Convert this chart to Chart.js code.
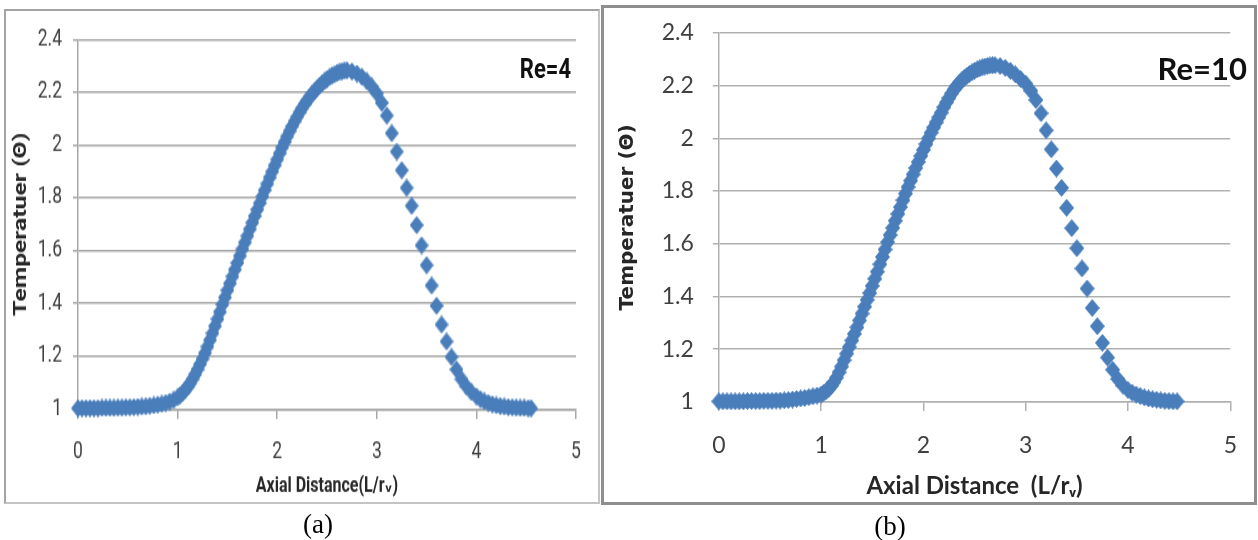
<!DOCTYPE html>
<html><head><meta charset="utf-8">
<script src="https://cdn.jsdelivr.net/npm/chart.js@4.4.1/dist/chart.umd.min.js"></script>
<style>
html,body{margin:0;padding:0;background:#fff;}
body{width:1258px;height:540px;position:relative;overflow:hidden;}
.frame{position:absolute;box-sizing:border-box;}
#frameA{left:4px;top:9px;width:596px;height:495px;border:2px solid #a4a4a4;border-right-color:#c4c4c4;border-bottom-color:#c4c4c4;}
#frameB{left:601px;top:5px;width:656px;height:500px;border:3px solid #8e8e8e;}
canvas{position:absolute;top:0;}
/* panel (a) of the source figure is vertically stretched; mimic it */
#cA{left:0;transform:scaleY(1.3012);transform-origin:0 0;}
#cB{left:600px;}
.note{position:absolute;white-space:nowrap;line-height:1;}
#reA{right:687px;top:53px;font:bold 22px Roboto,'DejaVu Sans',sans-serif;color:#111;transform:scaleY(1.27);transform-origin:0 0;}
#reB{right:11px;top:49px;font:bold 31px Lato,'Open Sans',sans-serif;color:#111;}
#capA{left:318px;top:509px;transform:translateX(-50%);font:27px 'Liberation Serif',serif;color:#000;}
#capB{left:890px;top:511px;transform:translateX(-50%);font:27px 'Liberation Serif',serif;color:#000;}
</style></head>
<body>
<div class="frame" id="frameA"></div>
<div class="frame" id="frameB"></div>
<canvas id="cA" width="600" height="415"></canvas>
<canvas id="cB" width="658" height="540"></canvas>
<div class="note" id="reA">Re=4</div>
<div class="note" id="reB">Re=10</div>
<div class="note" id="capA">(a)</div>
<div class="note" id="capB">(b)</div>
<script>
// ---- data ----
const xTickValues = [0, 1, 2, 3, 4, 5];
const xTickLabels = ['0', '1', '2', '3', '4', '5'];
const yTickValues = [1, 1.2, 1.4, 1.6, 1.8, 2, 2.2, 2.4];
const yTickLabels = ['1', '1.2', '1.4', '1.6', '1.8', '2', '2.2', '2.4'];

const xRe4 = [
  0,0.04,0.08,0.12,0.16,0.2,0.24,0.28,0.32,0.36,0.4,0.44,0.48,0.52,0.56,0.6,0.64,0.68,0.72,0.76,0.8,0.84,0.88,0.92,0.96,
  1,1.025,1.05,1.075,1.1,1.125,1.15,1.175,1.2,1.225,1.25,1.275,1.3,1.325,1.35,1.375,1.4,1.425,1.45,1.475,
  1.5,1.525,1.55,1.575,1.6,1.625,1.65,1.675,1.7,1.725,1.75,1.775,1.8,1.825,1.85,1.875,1.9,1.925,1.95,1.975,
  2,2.025,2.05,2.075,2.1,2.125,2.15,2.175,2.2,2.225,2.25,2.275,2.3,2.325,2.35,2.375,2.4,2.425,2.45,2.475,
  2.5,2.525,2.55,2.575,2.6,2.625,2.65,2.675,2.7,
  2.75,2.8,2.85,2.9,2.95,3,3.05,3.1,3.15,3.2,3.25,3.3,3.35,3.4,3.45,3.5,3.55,3.6,3.65,3.7,3.75,3.8,3.85,3.9,3.95,4,
  4.04,4.08,4.12,4.16,4.2,4.24,4.28,4.32,4.36,4.4,4.44,4.48,4.52,4.55
];
const thetaRe4 = [
  1.003,1.003,1.003,1.003,1.003,1.003,1.004,1.004,1.004,1.004,1.005,1.005,1.006,1.006,1.007,1.008,1.009,1.010,1.012,1.014,1.016,1.019,1.023,1.028,1.034,
  1.044,1.052,1.061,1.071,1.083,1.097,1.113,1.131,1.150,1.170,1.190,1.212,1.236,1.261,1.287,1.314,1.341,1.368,1.396,1.423,
  1.450,1.476,1.502,1.528,1.554,1.580,1.606,1.631,1.656,1.681,1.706,1.731,1.756,1.780,1.805,1.829,1.853,1.877,1.900,1.923,
  1.946,1.969,1.991,2.012,2.033,2.053,2.072,2.090,2.107,2.124,2.140,2.155,2.169,2.182,2.194,2.205,2.215,2.225,2.234,2.242,
  2.250,2.257,2.263,2.268,2.273,2.277,2.280,2.282,2.283,
  2.279,2.271,2.259,2.242,2.222,2.196,2.160,2.112,2.045,1.975,1.905,1.838,1.770,1.697,1.620,1.545,1.468,1.391,1.320,1.256,1.197,1.150,1.113,1.085,1.064,1.048,
  1.037,1.029,1.023,1.018,1.014,1.011,1.009,1.007,1.006,1.005,1.004,1.004,1.003,1.003
];

const xRe10 = [
  0,0.04,0.08,0.12,0.16,0.2,0.24,0.28,0.32,0.36,0.4,0.44,0.48,0.52,0.56,0.6,0.64,0.68,0.72,0.76,0.8,0.84,0.88,0.92,0.96,
  1,1.025,1.05,1.075,1.1,1.125,1.15,1.175,1.2,1.225,1.25,1.275,1.3,1.325,1.35,1.375,1.4,1.425,1.45,1.475,
  1.5,1.525,1.55,1.575,1.6,1.625,1.65,1.675,1.7,1.725,1.75,1.775,1.8,1.825,1.85,1.875,1.9,1.925,1.95,1.975,
  2,2.025,2.05,2.075,2.1,2.125,2.15,2.175,2.2,2.225,2.25,2.275,2.3,2.325,2.35,2.375,2.4,2.425,2.45,2.475,
  2.5,2.525,2.55,2.575,2.6,2.625,2.65,2.675,2.7,
  2.75,2.8,2.85,2.9,2.95,3,3.05,3.1,3.15,3.2,3.25,3.3,3.35,3.4,3.45,3.5,3.55,3.6,3.65,3.7,3.75,3.8,3.85,3.9,3.95,4,
  4.04,4.08,4.12,4.16,4.2,4.24,4.28,4.32,4.36,4.4,4.44,4.48
];
const thetaRe10 = [
  1.002,1.002,1.002,1.002,1.002,1.002,1.002,1.003,1.003,1.003,1.003,1.004,1.004,1.004,1.005,1.005,1.006,1.007,1.009,1.011,1.013,1.015,1.018,1.021,1.024,
  1.028,1.034,1.041,1.050,1.061,1.075,1.092,1.112,1.134,1.158,1.183,1.208,1.233,1.258,1.283,1.309,1.335,1.361,1.387,1.413,
  1.440,1.467,1.494,1.522,1.550,1.578,1.606,1.633,1.660,1.687,1.713,1.739,1.765,1.790,1.815,1.839,1.863,1.887,1.910,1.933,
  1.956,1.978,2.000,2.021,2.041,2.060,2.079,2.097,2.118,2.136,2.153,2.170,2.185,2.198,2.210,2.220,2.229,2.237,2.244,2.250,
  2.256,2.261,2.265,2.269,2.272,2.274,2.276,2.277,2.277,
  2.274,2.267,2.256,2.242,2.225,2.207,2.180,2.145,2.095,2.030,1.958,1.885,1.812,1.736,1.659,1.583,1.506,1.430,1.356,1.287,1.224,1.168,1.122,1.087,1.062,1.045,
  1.035,1.028,1.022,1.017,1.013,1.010,1.008,1.006,1.004,1.003,1.002,1.002
];

const seriesColor = '#4a7ebb';

// diamond marker sprite (style only; positions come from the scales)
function diamondSprite(w, h, color) {
  const c = document.createElement('canvas');
  c.width = w; c.height = h;
  const g = c.getContext('2d');
  g.fillStyle = color;
  g.beginPath();
  g.moveTo(w / 2, 0); g.lineTo(w, h / 2); g.lineTo(w / 2, h); g.lineTo(0, h / 2);
  g.closePath(); g.fill();
  return c;
}

function makeChart(canvas, xs, ys, o) {
  const pts = xs.map((x, i) => ({ x: x, y: ys[i] }));
  return new Chart(canvas, {
    type: 'scatter',
    data: { datasets: [{
      data: pts, pointStyle: diamondSprite(o.mw, o.mh, seriesColor), pointRadius: 7, pointHoverRadius: 7,
      backgroundColor: seriesColor, borderColor: seriesColor, borderWidth: 0, clip: false
    }] },
    options: {
      responsive: false, animation: false, devicePixelRatio: 1,
      events: [],
      layout: { padding: { left: 0, right: o.padRight, top: o.padTop, bottom: 0 } },
      plugins: { legend: { display: false }, tooltip: { enabled: false } },
      scales: {
        x: {
          type: 'linear', min: 0, max: 5,
          afterBuildTicks: s => { s.ticks = xTickValues.map(v => ({ value: v })); },
          afterFit: s => { s.height = o.xH; },
          ticks: { callback: (v, i) => xTickLabels[i], font: o.tickFont, color: '#404040',
                   padding: o.xPad, maxRotation: 0, autoSkip: false },
          grid: { drawOnChartArea: false, drawTicks: true, tickLength: o.xTick, color: o.grid, lineWidth: 1.5 },
          border: { display: true, color: o.grid, width: 1.5 },
          title: { display: true, text: o.xTitle, font: o.xTitleFont, color: '#262626',
                   padding: { top: 0, bottom: o.xTitlePad } }
        },
        y: {
          type: 'linear', min: 1, max: 2.4,
          afterBuildTicks: s => { s.ticks = yTickValues.map(v => ({ value: v })); },
          afterFit: s => { s.width = o.yW; },
          ticks: { callback: (v, i) => yTickLabels[i], font: o.tickFont, color: '#404040', padding: o.yPad },
          grid: { drawTicks: true, tickLength: o.yTick, color: o.grid, lineWidth: 1.5 },
          border: { display: true, color: o.grid, width: 1.5 },
          title: { display: true, text: 'Temperatuer (\u0398)', font: o.yTitleFont, color: '#262626',
                   padding: { top: o.yTitlePad, bottom: 0 } }
        }
      }
    }
  });
}

// panel (a): drawn on a 600x415 canvas that CSS stretches to 600x540
makeChart(document.getElementById('cA'), xRe4, thetaRe4, {
  mw: 14, mh: 14, grid: '#a8a8a8',
  padRight: 24, padTop: 30.36, xH: 100.7, yW: 78,
  xTick: 7.7, yTick: 5, xPad: 15.3, yPad: 11,
  tickFont: { family: "Roboto,'DejaVu Sans',sans-serif", size: 17.5 },
  xTitle: 'Axial Distance(L/r\u1D65)',
  xTitleFont: { family: "Roboto,'DejaVu Sans',sans-serif", size: 16, weight: 'bold' },
  xTitlePad: 31.2,
  yTitleFont: { family: "Roboto,'DejaVu Sans',sans-serif", size: 19, weight: 'bold' },
  yTitlePad: 9.6
});

makeChart(document.getElementById('cB'), xRe10, thetaRe10, {
  mw: 15, mh: 18, grid: '#b0b0b0',
  padRight: 27.7, padTop: 31.7, xH: 138.1, yW: 118.8,
  xTick: 9, yTick: 6, xPad: 21, yPad: 19,
  tickFont: { family: "Lato,'Open Sans',sans-serif", size: 23 },
  xTitle: 'Axial Distance  (L/r\u1D65)',
  xTitleFont: { family: "Lato,'Open Sans',sans-serif", size: 24, weight: 'bold' },
  xTitlePad: 39.6,
  yTitleFont: { family: "'DejaVu Sans',sans-serif", size: 20, weight: 'bold' },
  yTitlePad: 16
});
</script>
</body></html>
